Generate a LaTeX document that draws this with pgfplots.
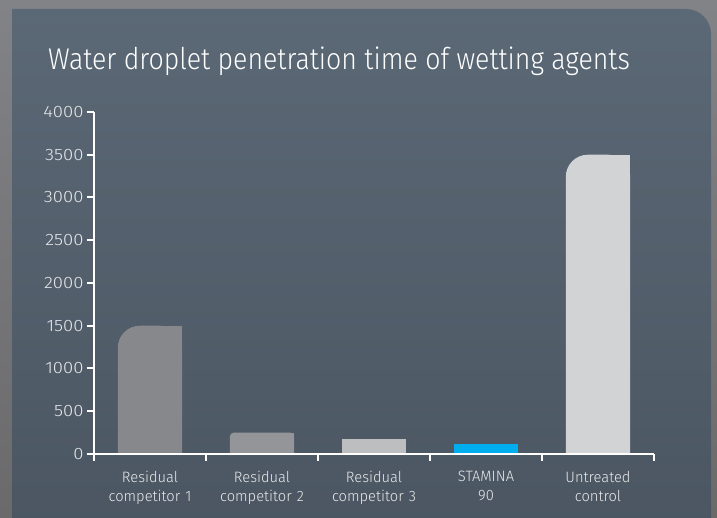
\documentclass[border=0pt]{standalone}
\usepackage{pgfplots}
\pgfplotsset{compat=1.18}
\usepackage{fontspec}
\setmainfont{Fira Sans Light}[FakeStretch=0.98]
\newfontfamily\titlefont{Fira Sans Light}[FakeStretch=0.89]
\newfontfamily\yfont{Fira Sans Light}[FakeStretch=1.12]
\definecolor{outtop}{HTML}{828387}
\definecolor{outbot}{HTML}{6A6A6B}
\definecolor{bgtop}{HTML}{5B6875}
\definecolor{bgbot}{HTML}{4A5561}
\definecolor{lbl}{HTML}{E8E9EA}
\definecolor{cA}{HTML}{87888B}
\definecolor{cB}{HTML}{939598}
\definecolor{cC}{HTML}{BCBEC0}
\definecolor{cD}{HTML}{00AEEF}
\definecolor{cE}{HTML}{D1D3D4}
\begin{document}
\begin{tikzpicture}[x=1pt,y=1pt]
\useasboundingbox (0,0) rectangle (717,518);
\shade[top color=outtop,bottom color=outbot] (0,0) rectangle (717,518);
\begin{scope}
\clip (0,0) rectangle (717,518);
\shade[top color=bgtop,bottom color=bgbot] (12,-40) -- (12,509) -- (686,509) arc[start angle=90,end angle=0,radius=25] -- (711,-40) -- cycle;
\end{scope}
\node[anchor=base west,text=white,font=\titlefont\fontsize{30}{32}\selectfont,inner sep=0pt] at (48,448) {Water droplet penetration time of wetting agents};
\begin{axis}[
  at={(94pt,64pt)}, anchor=south west,
  scale only axis, width=560pt, height=342pt,
  xmin=-0.5, xmax=4.5, ymin=0, ymax=4000,
  axis lines=left,
  axis line style={white,line width=2.5pt,-},
  axis on top=true,
  tick align=outside,
  xtick={0,1,2,3,4},
  xticklabels={{Residual\\competitor 1},{Residual\\competitor 2},{Residual\\competitor 3},{STAMINA\\90},{Untreated\\control}},
  minor xtick={-0.5,0.5,1.5,2.5,3.5,4.5},
  major x tick style={draw=none},
  minor x tick style={white,line width=2pt},
  minor tick length=7pt,
  ytick={0,500,...,4000},
  y tick style={white,line width=2pt},
  major tick length=7pt,
  x tick label style={text=lbl,font=\fontsize{15}{19}\selectfont,align=center,text width=110pt,yshift=-7pt},
  y tick label style={text=lbl,font=\yfont\fontsize{16.5}{18}\selectfont},
  /pgf/number format/assume math mode=true,
  /pgf/number format/set thousands separator={},
  clip=true,
]
% Bar 1 (1500), rounded top-left corner
\addplot[fill=cA,draw=none] coordinates {(0,0) (0,1500) (0.2875,1500) (0.2875,0)} -- cycle;
\addplot[fill=cA,draw=none,rounded corners=22pt] coordinates {(-0.2875,-800) (-0.2875,1500) (0.2875,1500) (0.2875,-800)} -- cycle;
% Bar 2 (250)
\addplot[fill=cB,draw=none] coordinates {(1,0) (1,250) (1.2875,250) (1.2875,0)} -- cycle;
\addplot[fill=cB,draw=none,rounded corners=4pt] coordinates {(0.7125,-100) (0.7125,250) (1.2875,250) (1.2875,-100)} -- cycle;
% Bar 3 (180)
\addplot[fill=cC,draw=none] coordinates {(1.7125,0) (1.7125,180) (2.2875,180) (2.2875,0)} -- cycle;
% Bar 4 (120)
\addplot[fill=cD,draw=none] coordinates {(2.7125,0) (2.7125,120) (3.2875,120) (3.2875,0)} -- cycle;
% Bar 5 (3500)
\addplot[fill=cE,draw=none] coordinates {(4,0) (4,3500) (4.2875,3500) (4.2875,0)} -- cycle;
\addplot[fill=cE,draw=none,rounded corners=22pt] coordinates {(3.7125,-800) (3.7125,3500) (4.2875,3500) (4.2875,-800)} -- cycle;
\end{axis}
\end{tikzpicture}
\end{document}
